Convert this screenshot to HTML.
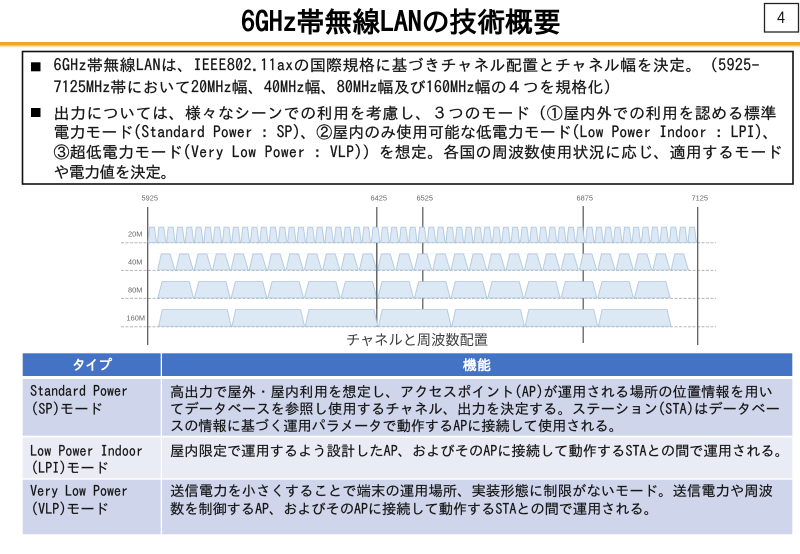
<!DOCTYPE html>
<html lang="ja"><head><meta charset="utf-8"><title>6GHz帯無線LANの技術概要</title>
<style>
html,body{margin:0;padding:0;background:#fff;width:800px;height:554px;overflow:hidden}
svg{display:block}
text{font-family:"IPAGothic","Liberation Sans","Noto Sans CJK JP",sans-serif;fill:#141414;white-space:pre}
.b{font-size:16px;stroke:#141414;stroke-width:.22px}
.t{font-size:14.4px;stroke:#141414;stroke-width:.18px}
.f{font-size:7.4px;fill:#666;font-family:"Liberation Sans",sans-serif}
</style></head><body>
<svg width="800" height="554" viewBox="0 0 800 554" xmlns="http://www.w3.org/2000/svg">
<defs>
<filter id="s" x="-2%" y="-2%" width="104%" height="104%"><feGaussianBlur stdDeviation="0.35"/></filter>
<filter id="x" x="-1%" y="-1%" width="102%" height="102%"><feGaussianBlur stdDeviation="0.28"/></filter>
<pattern id="p20" patternUnits="userSpaceOnUse" x="147.6" y="226.7" width="9.31" height="16.2"><path d="M.4 16L2 .6H6.9L8.9 16Z" fill="#dde8f5" stroke="#a6c2dc" stroke-width=".8"/></pattern>
<pattern id="p40" patternUnits="userSpaceOnUse" x="157.3" y="253.3" width="18.34" height="17"><path d="M.3 16.8L4 .6H12.8L17.6 16.8Z" fill="#dde8f5" stroke="#a6c2dc" stroke-width=".8"/></pattern>
<pattern id="p80" patternUnits="userSpaceOnUse" x="157.5" y="281" width="36.66" height="17.3"><path d="M.3 17L4.6 .6H31.8L36 17Z" fill="#dde8f5" stroke="#a6c2dc" stroke-width=".8"/></pattern>
<pattern id="p160" patternUnits="userSpaceOnUse" x="158.3" y="309" width="73.3" height="17.7"><path d="M.3 17.5L4 .6H69L73 17.5Z" fill="#dde8f5" stroke="#a6c2dc" stroke-width=".8"/></pattern>
</defs>

<rect width="800" height="554" fill="#fff"/>

<!-- title -->
<text x="241" y="32" font-size="28" font-weight="700" textLength="320" lengthAdjust="spacing" style="fill:#000">6GHz帯無線LANの技術概要</text>
<rect x="764.5" y="3.5" width="34" height="28.5" fill="#fff" stroke="#222" stroke-width="1.3"/>
<text x="777" y="24" font-size="16" style="fill:#111">4</text>
<rect x="0" y="42" width="800" height="3.6" fill="#e9a92b"/>
<rect x="0" y="45.6" width="800" height="1.6" fill="#f6dfae"/>

<!-- top box -->
<rect x="22.5" y="51.5" width="770.5" height="132.5" fill="#fff" stroke="#111" stroke-width="1.6"/>
<rect x="31" y="62.3" width="9.5" height="9" fill="#000"/>
<rect x="31" y="108" width="9.5" height="9" fill="#000"/>
<g filter="url(#x)">
<text class="b" x="53.5" y="71" textLength="706" lengthAdjust="spacing">6GHz帯無線LANは、IEEE802.11axの国際規格に基づきチャネル配置とチャネル幅を決定。（5925-</text>
<text class="b" x="53.5" y="93" textLength="566" lengthAdjust="spacing">7125MHz帯において20MHz幅、40MHz幅、80MHz幅及び160MHz幅の４つを規格化）</text>
<text class="b" x="53.5" y="119" textLength="723" lengthAdjust="spacing">出力については、様々なシーンでの利用を考慮し、３つのモード（①屋内外での利用を認める標準</text>
<text class="b" x="53.5" y="138" textLength="725" lengthAdjust="spacing">電力モード(Standard Power : SP)、②屋内のみ使用可能な低電力モード(Low Power Indoor : LPI)、</text>
<text class="b" x="53.5" y="158" textLength="729" lengthAdjust="spacing">③超低電力モード(Very Low Power : VLP)）を想定。各国の周波数使用状況に応じ、適用するモード</text>
<text class="b" x="53.5" y="178" textLength="123" lengthAdjust="spacing">や電力値を決定。</text>
</g>

<!-- chart -->
<g filter="url(#s)">
<g stroke="#b5b5b5" stroke-width="1" stroke-dasharray="3 1.5">
<path d="M121 242.7H716M121 270.4H716M121 298.4H716M121 326.7H716"/>
</g>
<g stroke="#555" stroke-width="1.2">
<path d="M147.7 207V345M376.8 207V327M422.8 207V309M583.2 206V343M697.7 207V345"/>
</g>
<rect x="147.6" y="226.7" width="549.3" height="16.2" fill="url(#p20)"/>
<rect x="157.3" y="253.3" width="531.9" height="17" fill="url(#p40)"/>
<rect x="157.5" y="281" width="513.2" height="17.3" fill="url(#p80)"/>
<rect x="158.3" y="309" width="513.1" height="17.7" fill="url(#p160)"/>
<path d="M376.8 243V309" stroke="#555" stroke-width="1.2" opacity=".8"/>
</g>
<text class="f" x="141.5" y="200.5">5925</text>
<text class="f" x="370.5" y="200.5">6425</text>
<text class="f" x="416.5" y="200.5">6525</text>
<text class="f" x="576.5" y="200.5">6875</text>
<text class="f" x="691.5" y="200.5">7125</text>
<text class="f" x="128" y="236.5">20M</text>
<text class="f" x="128" y="264.5">40M</text>
<text class="f" x="128" y="292.5">80M</text>
<text class="f" x="126.5" y="320.5">160M</text>
<text x="346" y="345" font-size="14.2" textLength="142" lengthAdjust="spacing" style="fill:#3c3c3c;font-family:'Noto Sans CJK JP',sans-serif">チャネルと周波数配置</text>

<!-- table -->
<rect x="22.7" y="353.3" width="138" height="22.7" fill="#4472c4"/>
<rect x="162" y="353.3" width="630.3" height="22.7" fill="#4472c4"/>
<rect x="22.7" y="379" width="138" height="56.7" fill="#cfd5ea"/>
<rect x="162" y="379" width="630.3" height="56.7" fill="#cfd5ea"/>
<rect x="22.7" y="437.5" width="138" height="40.8" fill="#e9ebf5"/>
<rect x="162" y="437.5" width="630.3" height="40.8" fill="#e9ebf5"/>
<rect x="22.7" y="479.7" width="138" height="54.6" fill="#cfd5ea"/>
<rect x="162" y="479.7" width="630.3" height="54.6" fill="#cfd5ea"/>

<text x="72" y="370" font-size="14" font-weight="700" textLength="40" lengthAdjust="spacing" style="fill:#fff">タイプ</text>
<text x="463" y="370" font-size="14" font-weight="700" textLength="28" lengthAdjust="spacing" style="fill:#fff">機能</text>

<g filter="url(#x)">
<text class="t" x="30" y="396" textLength="98" lengthAdjust="spacing">Standard Power</text>
<text class="t" x="31" y="414" textLength="72" lengthAdjust="spacing">(SP)モード</text>
<text class="t" x="30" y="456" textLength="113" lengthAdjust="spacing">Low Power Indoor</text>
<text class="t" x="31" y="473" textLength="78" lengthAdjust="spacing">(LPI)モード</text>
<text class="t" x="30" y="496" textLength="98" lengthAdjust="spacing">Very Low Power</text>
<text class="t" x="31" y="514" textLength="78" lengthAdjust="spacing">(VLP)モード</text>

<text class="t" x="170" y="397" textLength="603" lengthAdjust="spacing">高出力で屋外・屋内利用を想定し、アクセスポイント(AP)が運用される場所の位置情報を用い</text>
<text class="t" x="170" y="414" textLength="610" lengthAdjust="spacing">てデータベースを参照し使用するチャネル、出力を決定する。ステーション(STA)はデータベー</text>
<text class="t" x="170" y="431" textLength="453" lengthAdjust="spacing">スの情報に基づく運用パラメータで動作するAPに接続して使用される。</text>
<text class="t" x="170" y="456" textLength="619" lengthAdjust="spacing">屋内限定で運用するよう設計したAP、およびそのAPに接続して動作するSTAとの間で運用される。</text>
<text class="t" x="170" y="496" textLength="603" lengthAdjust="spacing">送信電力を小さくすることで端末の運用場所、実装形態に制限がないモード。送信電力や周波</text>
<text class="t" x="170" y="514" textLength="488" lengthAdjust="spacing">数を制御するAP、およびそのAPに接続して動作するSTAとの間で運用される。</text>
</g>
</svg>
</body></html>
